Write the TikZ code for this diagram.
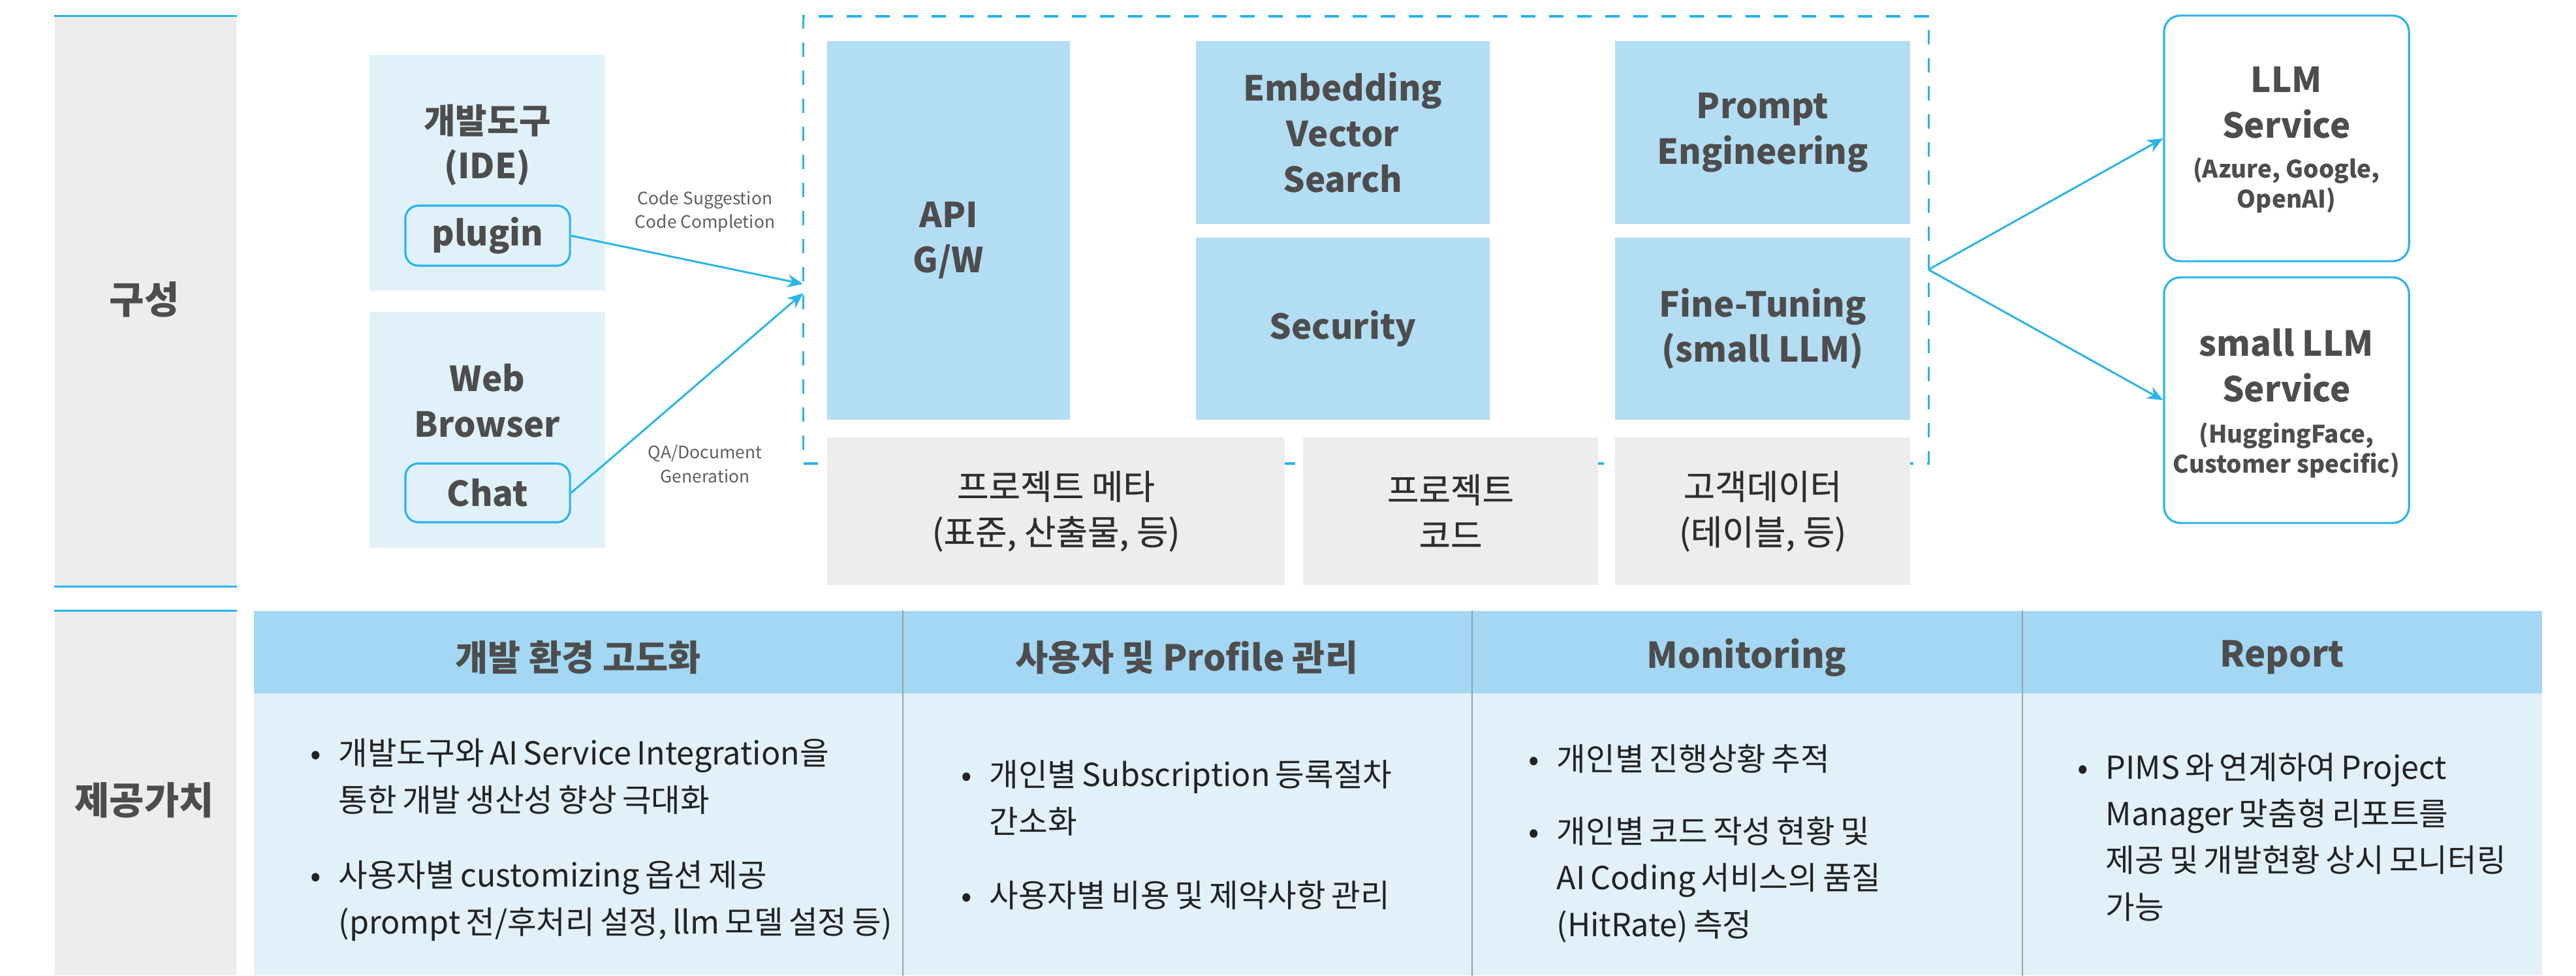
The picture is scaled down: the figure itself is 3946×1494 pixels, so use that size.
\documentclass[tikz,border=0pt]{standalone}
\usepackage{fontspec}
\setmainfont{Noto Sans CJK KR}
\newfontfamily\bodyfont[WordSpace=0.75]{Noto Sans CJK KR}
\newfontfamily\medfont[FakeBold=0.5]{Noto Sans CJK KR}
\usetikzlibrary{arrows.meta}
\definecolor{lblue}{HTML}{B3DDF3}
\definecolor{pale}{HTML}{E1F1FA}
\definecolor{lgray}{HTML}{EDEDED}
\definecolor{cyanl}{HTML}{29B5E8}
\definecolor{hdr}{HTML}{A3D7F3}
\definecolor{bodyb}{HTML}{E1F0F9}
\definecolor{divc}{HTML}{9AA0A6}
\definecolor{txt}{HTML}{4D4D4D}
\definecolor{btxt}{HTML}{222222}
\definecolor{gtxt}{HTML}{2E2E2E}
\begin{document}
\begin{tikzpicture}[x=0.01cm,y=-0.01cm,
  bigf/.style={font=\fontsize{15}{19.8}\selectfont\bfseries, text=txt, align=center},
  grayf/.style={font=\medfont\fontsize{15}{19.8}\selectfont, text=gtxt, align=center},
  subf/.style={font=\fontsize{10.5}{13.1}\selectfont\bfseries, text=txt, align=center},
  smallf/.style={font=\fontsize{7.5}{10.5}\selectfont, text=txt!90, align=center, inner sep=0},
  bodyf/.style={font=\bodyfont\fontsize{13.8}{20.2}\selectfont, text=btxt, align=left, inner sep=0, anchor=base west},
  sidef/.style={font=\fontsize{16.5}{20}\selectfont\bfseries, text=txt},
  bluebox/.style={fill=lblue, draw=none, inner sep=0},
  graybox/.style={fill=lgray, draw=none, inner sep=0},
  palebox/.style={fill=pale, draw=none, inner sep=0},
  pillbox/.style={fill=pale, draw=cyanl, line width=0.9pt, rounded corners=0.2cm, inner sep=0},
  svcbox/.style={fill=white, draw=cyanl, line width=0.9pt, rounded corners=0.25cm, inner sep=0},
  hdrbox/.style={fill=hdr, draw=none, inner sep=0, font=\fontsize{15.5}{19.8}\selectfont\bfseries, text=txt},
  bodybox/.style={fill=bodyb, draw=none, inner sep=0},
  conn/.style={draw=cyanl, line width=0.85pt, -{Stealth[length=0.24cm,width=0.2cm]}},
  sepline/.style={draw=cyanl, line width=0.85pt},
  divline/.style={draw=divc, line width=0.6pt}
]
\useasboundingbox (0,0) rectangle (3946,1494);
% left side labels
\node[fill=lgray, minimum width=2.78cm, minimum height=8.73cm, inner sep=0] (sideA) at (223,461.5) {};
\node[fill=lgray, minimum width=2.78cm, minimum height=5.58cm, inner sep=0] (sideB) at (223,1215) {};
\draw[sepline] (sideA.north west) -- (sideA.north east);
\draw[sepline] (sideA.south west) -- (sideA.south east);
\draw[sepline] (sideB.north west) -- (sideB.north east);
\node[sidef] (lblA) at (221,459) {구성};
\node[sidef] (lblB) at (221,1226) {제공가치};

% dashed core
\node[draw=cyanl, line width=1.1pt, dash pattern=on 0.22cm off 0.21cm, minimum width=17.23cm, minimum height=6.85cm, inner sep=0] (core) at (2092.5,367.5) {};

% client panels
\node[palebox, minimum width=3.61cm, minimum height=3.61cm] (ide) at (746.5,264.5) {};
\node[bigf] (idetxt) at (746.5,222) {개발도구\\(IDE)};
\node[pillbox, minimum width=2.52cm, minimum height=0.92cm, bigf] (plugin) at (747,361) {plugin};
\node[palebox, minimum width=3.61cm, minimum height=3.61cm] (web) at (746.5,658.5) {};
\node[bigf] (webtxt) at (746.5,614) {Web\\Browser};
\node[pillbox, minimum width=2.52cm, minimum height=0.90cm, bigf] (chat) at (747,755) {Chat};

% core boxes
\node[bluebox, minimum width=3.72cm, minimum height=5.80cm] (api) at (1453,353) {};
\node[bigf] (apitxt) at (1453,368) {API\\G/W};
\node[bluebox, bigf, minimum width=4.50cm, minimum height=2.80cm] (emb) at (2057,203) {Embedding\\Vector\\Search};
\node[bluebox, bigf, minimum width=4.50cm, minimum height=2.79cm] (sec) at (2057,503.5) {Security};
\node[bluebox, bigf, minimum width=4.52cm, minimum height=2.80cm] (prm) at (2700,203) {Prompt\\Engineering};
\node[bluebox, bigf, minimum width=4.52cm, minimum height=2.79cm] (fine) at (2700,503.5) {Fine-Tuning\\(small LLM)};
\node[graybox, grayf, minimum width=7.01cm, minimum height=2.26cm] (meta) at (1617.5,783) {프로젝트 메타\\(표준, 산출물, 등)};
\node[graybox, grayf, minimum width=4.52cm, minimum height=2.26cm] (code) at (2222,783) {프로젝트\\코드};
\node[graybox, grayf, minimum width=4.52cm, minimum height=2.26cm] (cust) at (2700,783) {고객데이터\\(테이블, 등)};

% services
\node[svcbox, minimum width=3.75cm, minimum height=3.76cm] (llm) at (3502.5,212) {};
\node[bigf] (llmt) at (3502.5,157) {LLM\\Service};
\node[subf] (llms) at (3502.5,284) {(Azure, Google,\\OpenAI)};
\node[svcbox, minimum width=3.75cm, minimum height=3.76cm] (sllm) at (3502.5,613) {};
\node[bigf] (sllmt) at (3502.5,560) {small LLM\\Service};
\node[subf] (sllms) at (3502.5,690) {(HuggingFace,\\Customer specific)};

% connectors
\coordinate (t1) at (1230,435);
\coordinate (t2) at (1230,449);
\coordinate (br) at (2954,413);
\draw[conn] (plugin.east) -- (t1);
\draw[conn] (chat.east) -- (t2);
\draw[conn] (br) -- (llm.west);
\draw[conn] (br) -- (sllm.west);
\node[smallf] (lab1) at (1080,324) {Code Suggestion\\Code Completion};
\node[smallf] (lab2) at (1080,711) {QA/Document\\Generation};

% value table
\node[hdrbox, minimum width=9.93cm, minimum height=1.26cm] (h1) at (885.5,999) {};
\node[hdrbox, minimum width=8.72cm, minimum height=1.26cm] (h2) at (1818,999) {};
\node[hdrbox, minimum width=8.43cm, minimum height=1.26cm] (h3) at (2675.5,999) {};
\node[hdrbox, minimum width=7.97cm, minimum height=1.26cm] (h4) at (3495.5,999) {};
\node[hdrbox, fill=none] (h1t) at (885.5,1007) {개발 환경 고도화};
\node[hdrbox, fill=none] (h2t) at (1818,1007) {사용자 및 Profile 관리};
\node[hdrbox, fill=none] (h3t) at (2675.5,1007) {Monitoring};
\node[hdrbox, fill=none] (h4t) at (3495.5,1007) {Report};
\node[bodybox, minimum width=9.93cm, minimum height=4.32cm] (c1) at (885.5,1278) {};
\node[bodybox, minimum width=8.72cm, minimum height=4.32cm] (c2) at (1818,1278) {};
\node[bodybox, minimum width=8.43cm, minimum height=4.32cm] (c3) at (2675.5,1278) {};
\node[bodybox, minimum width=7.97cm, minimum height=4.32cm] (c4) at (3495.5,1278) {};
\draw[divline] (h1.north east) -- (c1.south east);
\draw[divline] (h2.north east) -- (c2.south east);
\draw[divline] (h3.north east) -- (c3.south east);

\newcommand{\bulletmark}{\llap{•\hspace{0.27cm}}}
\node[bodyf] (b11) at (518,1243) {\bulletmark 개발도구와 AI Service Integration을\\통한 개발 생산성 향상 극대화};
\node[bodyf] (b12) at (518,1430) {\bulletmark 사용자별 customizing 옵션 제공\\(prompt 전/후처리 설정, llm 모델 설정 등)};
\node[bodyf] (b21) at (1515,1276) {\bulletmark 개인별 Subscription 등록절차\\간소화};
\node[bodyf] (b22) at (1515,1389) {\bulletmark 사용자별 비용 및 제약사항 관리};
\node[bodyf] (b31) at (2384,1180) {\bulletmark 개인별 진행상황 추적};
\node[bodyf] (b32) at (2384,1434) {\bulletmark 개인별 코드 작성 현황 및\\AI Coding 서비스의 품질\\(HitRate) 측정};
\node[bodyf] (b41) at (3225,1407) {\bulletmark PIMS 와 연계하여 Project\\Manager 맞춤형 리포트를\\제공 및 개발현황 상시 모니터링\\가능};
\end{tikzpicture}
\end{document}
